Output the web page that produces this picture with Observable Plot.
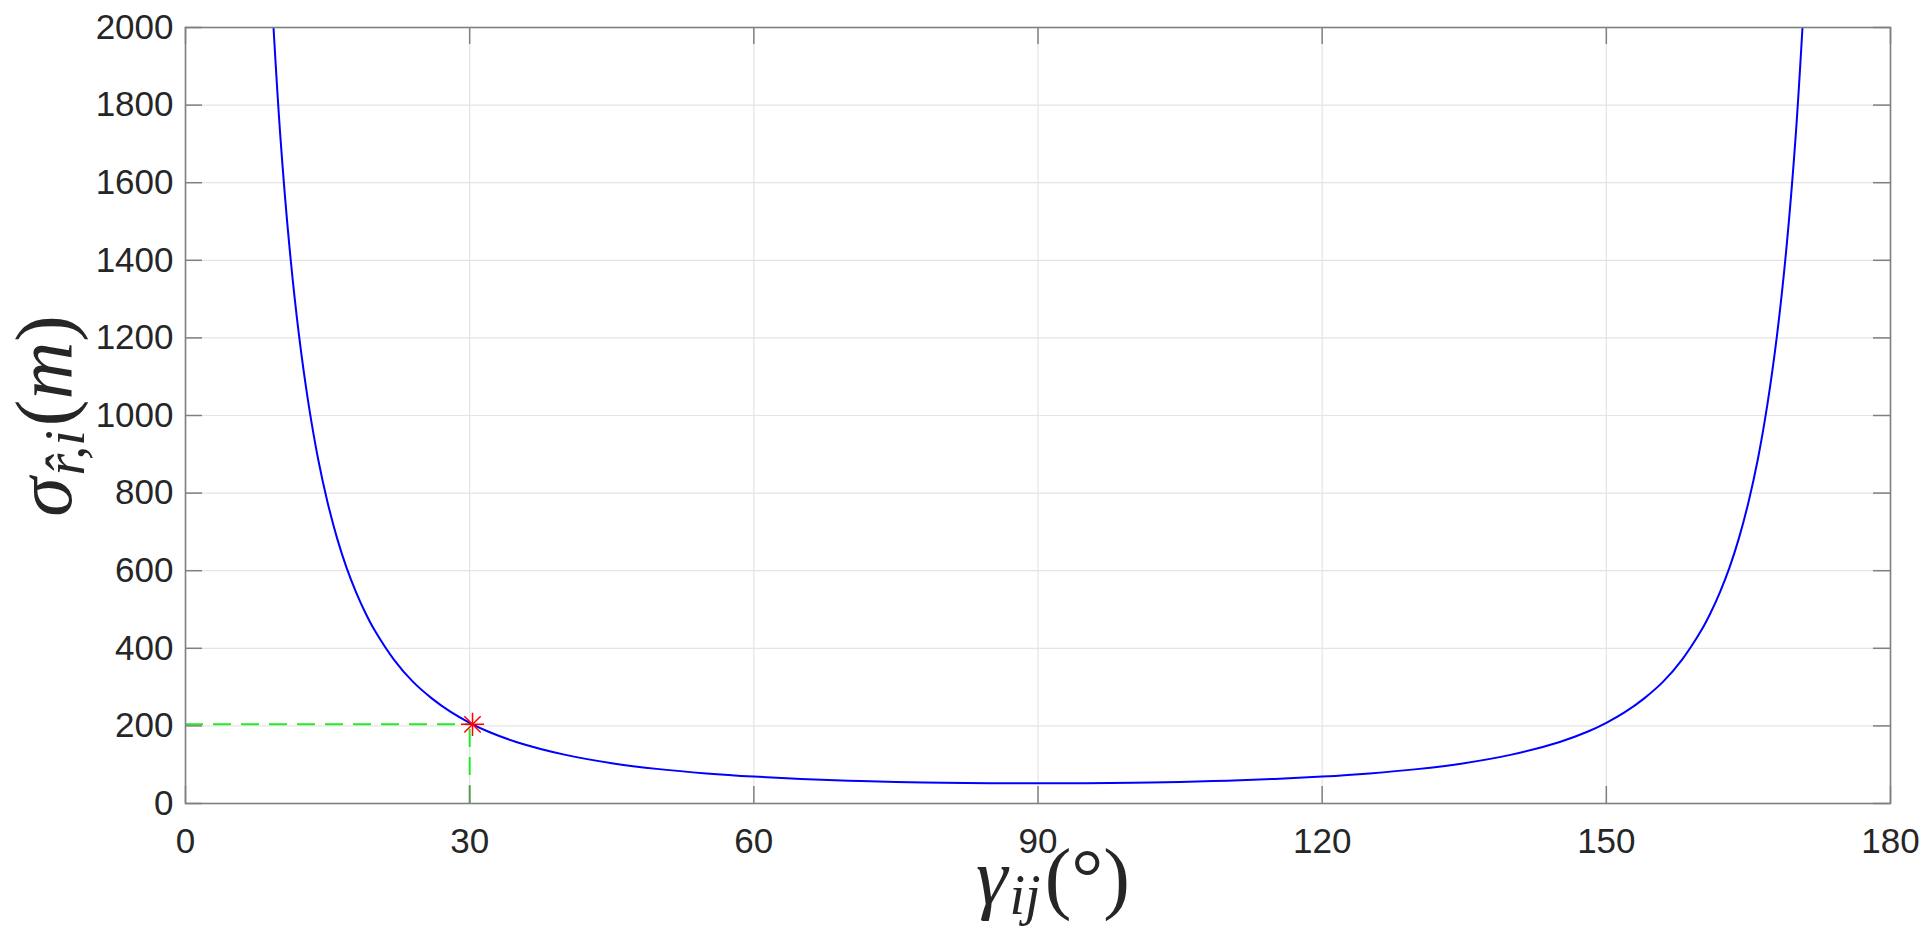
<!DOCTYPE html>
<html>
<head>
<meta charset="utf-8">
<script src="https://cdn.jsdelivr.net/npm/d3@7"></script>
<script src="https://cdn.jsdelivr.net/npm/@observablehq/plot@0.6"></script>
<style>
  html, body { margin: 0; padding: 0; background: #fff; }
  #chart { position: absolute; left: 0; top: 0; }
</style>
</head>
<body>
<div id="chart"></div>
<script>
// ---- data ----
const gamma = [9,10,11,12,13,14,15,16,17,18,19,20,22,24,26,28,30,32,35,40,45,50,55,60,65,70,75,80,85,90,
               95,100,105,110,115,120,125,130,135,140,145,148,150,152,154,156,158,160,161,162,163,164,165,166,167,168,169,170,171];
const sigma = [2125,1724,1428,1203,1028,888,776,684,608,545,491,445,371,314,271,236,208,185,158,126,104,88.6,77.5,69.3,63.3,58.9,55.7,53.6,52.4,52,
               52.4,53.6,55.7,58.9,63.3,69.3,77.5,88.6,104,126,158,185,208,236,271,314,371,445,491,545,608,684,776,888,1028,1203,1428,1724,2125];
const markGamma = [30.3];
const markSigma = [204];
const guideGamma = [30];
const xTicks = [0, 30, 60, 90, 120, 150, 180];
const yTicks = [0, 200, 400, 600, 800, 1000, 1200, 1400, 1600, 1800, 2000];

const curve = gamma.map((g, i) => ({g, s: sigma[i]}));
const marker = markGamma.map((g, i) => ({g, s: markSigma[i]}));

const W = 1931, H = 942;
const mL = 185, mR = 41, mT = 27, mB = 139;
const innerW = W - mL - mR, innerH = H - mT - mB;
const tick = 17;

const chart = Plot.plot({
  width: W, height: H,
  marginLeft: mL, marginRight: mR, marginTop: mT, marginBottom: mB,
  style: {fontFamily: "'Liberation Sans', Arial, sans-serif", fontSize: "35px", background: "#fff", overflow: "visible"},
  x: {domain: [0, 180]},
  y: {domain: [0, 2000]},
  marks: [
    Plot.gridX(xTicks, {stroke: "#e4e4e4", strokeOpacity: 1, strokeWidth: 1.2}),
    Plot.gridY(yTicks, {stroke: "#e4e4e4", strokeOpacity: 1, strokeWidth: 1.2}),
    Plot.axisX({ticks: xTicks, tickSize: 0, tickPadding: 25, tickFormat: d => String(d), label: null, color: "#262626"}),
    Plot.axisY({ticks: yTicks, tickSize: 0, tickPadding: 12, tickFormat: d => String(d), label: null, color: "#262626"}),
    Plot.ruleX(guideGamma, {x: d => d, y1: 0, y2: markSigma[0], stroke: "#22ec22", strokeWidth: 2, strokeDasharray: "18,10"}),
    Plot.ruleY(markSigma, {y: d => d, x1: 0, x2: markGamma[0], stroke: "#22ec22", strokeWidth: 2, strokeDasharray: "18,10"}),
    Plot.line(curve, {x: "g", y: "s", stroke: "#0000ff", strokeWidth: 2, curve: "catmull-rom", clip: true}),
    Plot.dot(marker, {x: "g", y: "s", symbol: "plus", r: 7.5, stroke: "#ff0000", strokeWidth: 1.5}),
    Plot.dot(marker, {x: "g", y: "s", symbol: "times", r: 7.5, stroke: "#ff0000", strokeWidth: 1.5}),
    // inward ticks on all four sides
    Plot.tickX(xTicks, {x: d => d, insetTop: innerH - tick, stroke: "#808080", strokeWidth: 1.5}),
    Plot.tickX(xTicks, {x: d => d, insetBottom: innerH - tick, stroke: "#808080", strokeWidth: 1.5}),
    Plot.tickY(yTicks, {y: d => d, insetRight: innerW - tick, stroke: "#808080", strokeWidth: 1.5}),
    Plot.tickY(yTicks, {y: d => d, insetLeft: innerW - tick, stroke: "#808080", strokeWidth: 1.5}),
    Plot.frame({stroke: "#808080", strokeWidth: 1.6})
  ]
});

document.getElementById("chart").appendChild(chart);

// axis titles as real text (math-style)
const svg = d3.select(chart);
const serif = "'Liberation Serif', 'Times New Roman', serif";

const xl = svg.append("text")
  .attr("x", 1053).attr("y", 904)
  .attr("text-anchor", "middle")
  .attr("font-family", serif).attr("font-size", 80).attr("fill", "#262626");
xl.append("tspan").attr("font-style", "italic").text("γ");
xl.append("tspan").attr("font-style", "italic").attr("font-size", 56).attr("dy", 10).attr("dx", 2).text("ij");
xl.append("tspan").attr("dy", -10).attr("dx", 4).text("(°)");

const yl = svg.append("text")
  .attr("transform", "translate(71,416) rotate(-90)")
  .attr("text-anchor", "middle")
  .attr("font-family", serif).attr("font-size", 80).attr("fill", "#262626");
yl.append("tspan").attr("font-style", "italic").text("σ");
yl.append("tspan").attr("font-style", "italic").attr("font-size", 56).attr("dy", 13).attr("dx", 2).text("r̂,i");
yl.append("tspan").attr("dy", -13).attr("dx", 4).text("(");
yl.append("tspan").attr("font-style", "italic").text("m");
yl.append("tspan").text(")");
</script>
</body>
</html>
